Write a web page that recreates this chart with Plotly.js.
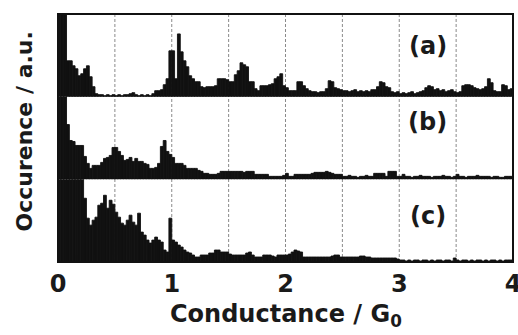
<!DOCTYPE html>
<html>
<head>
<meta charset="utf-8">
<script src="https://cdn.plot.ly/plotly-3.0.1.min.js"></script>
<style>html,body{margin:0;padding:0;background:#fff;}#chart{width:518px;height:335px;}</style>
</head>
<body>
<div id="chart"></div>
<script>
// Histogram bin setup (conductance in G0)
const binStart = 0;
const binWidth = 0.025;
const tickValues = [0, 1, 2, 3, 4];
const tickLabels = ["0", "1", "2", "3", "4"];
const gridValues = [0.5, 1, 1.5, 2, 2.5, 3, 3.5];
const panelLabels = ["(a)", "(b)", "(c)"];

// Occurrence (a.u.) per bin
const seriesA = [
100,100,100,36,36,31,28,21,23,28,
31,20,10,3,2,2,1,2,1,2,
1,2,1,2,2,3,4,2,1,2,
1,2,1,3,6,6,7,12,18,46,
46,18,63,45,36,30,21,18,15,15,
10,9,10,10,10,11,18,18,18,17,
15,15,22,26,34,32,30,15,15,8,
6,11,11,11,12,13,18,20,23,11,
9,6,6,6,15,15,11,8,6,5,
5,4,5,5,8,16,15,9,8,7,
6,6,5,6,7,5,6,5,6,5,
7,7,10,15,14,10,9,5,4,5,
3,4,3,4,5,3,4,5,6,9,
11,10,7,8,6,7,5,6,7,5,
4,5,11,12,12,11,9,8,7,8,
10,18,14,6,5,5,12,11,7,8
];
const seriesB = [
100,100,100,55,39,38,34,34,34,23,
16,11,14,14,14,17,21,22,24,32,
32,28,24,19,20,22,18,21,18,18,
16,15,11,11,12,16,33,39,28,25,
22,16,16,16,14,11,11,11,11,9,
8,6,6,5,5,5,6,8,8,8,
8,8,8,8,8,7,8,8,8,5,
5,5,5,5,3,3,3,3,3,4,
6,3,3,5,5,5,5,5,5,6,
7,7,7,7,8,7,6,5,5,5,
3,3,4,3,3,2,3,3,4,3,
3,6,6,6,6,3,8,8,8,3,
3,5,3,3,2,3,3,4,3,3,
3,2,3,3,3,4,3,3,2,3,
5,3,3,2,3,3,3,4,3,3,
3,3,2,3,3,2,2,3,3,3
];
const seriesC = [
100,100,100,100,100,100,100,100,100,64,
44,37,42,45,57,59,67,54,62,58,
50,45,39,37,42,47,40,37,49,30,
27,22,19,22,25,22,20,12,10,44,
22,20,17,15,12,10,9,7,5,5,
7,7,7,9,9,12,12,10,10,10,
8,7,7,7,7,7,9,10,7,5,
5,5,7,7,7,6,5,7,7,7,
7,8,10,12,11,10,5,5,5,5,
5,5,5,5,5,5,6,7,7,5,
5,5,5,5,5,5,6,6,5,5,
4,4,4,4,4,4,4,4,4,3,
2,2,1,2,1,2,2,1,2,2,
1,2,1,2,2,1,2,2,1,4,
2,1,2,2,1,2,1,2,2,1,
2,1,2,2,1,2,1,2,2,2
];

const FONT = "DejaVu Sans, Arial, sans-serif";
const TXT = "#1a1a1a";
const BAR = "#111111";

function barTrace(vals, yax) {
  return {
    type: "bar", x0: binStart + binWidth / 2, dx: binWidth, y: vals,
    xaxis: "x", yaxis: yax,
    marker: { color: BAR, line: { color: BAR, width: 0.9 } },
    hoverinfo: "skip", showlegend: false
  };
}

const data = [barTrace(seriesA, "y"), barTrace(seriesB, "y2"), barTrace(seriesC, "y3")];

const yBase = { range: [0, 83], showticklabels: false, showgrid: false, zeroline: false, showline: false, ticks: "", fixedrange: true, anchor: "x" };

const shapes = gridValues.map(v => ({
  type: "line", xref: "x", yref: "paper", x0: v, x1: v, y0: 0, y1: 1,
  line: { color: "#8a8a8a", width: 1, dash: "3px,2px" }, layer: "below"
}));
shapes.push({ type: "rect", xref: "paper", yref: "paper", x0: 0, x1: 1, y0: 0, y1: 1,
  line: { color: "#111", width: 2 }, layer: "above" });

const labelY = [0.871, 0.565, 0.185];
const annotations = panelLabels.map((t, i) => ({
  text: t, xref: "x", yref: "paper", x: 3.25, y: labelY[i], showarrow: false,
  xanchor: "center", yanchor: "middle",
  font: { family: FONT, size: 24, color: TXT, weight: "bold" }
}));
annotations.push({
  text: "Occurence / a.u.", xref: "paper", yref: "paper", x: -0.0725, y: 0.526,
  textangle: -90, showarrow: false, xanchor: "center", yanchor: "middle",
  font: { family: FONT, size: 22, color: TXT, weight: "bold" }
});
annotations.push({
  text: "Conductance / G<sub>0</sub>", xref: "paper", yref: "paper", x: 0.5, y: -0.215,
  showarrow: false, xanchor: "center", yanchor: "middle",
  font: { family: FONT, size: 24, color: TXT, weight: "bold" }
});

const layout = {
  width: 518, height: 335,
  margin: { l: 58, r: 5, t: 14, b: 73 },
  paper_bgcolor: "#fff", plot_bgcolor: "#fff",
  bargap: 0, showlegend: false,
  xaxis: { range: [0, 4], tickvals: tickValues, ticktext: tickLabels, showgrid: false, zeroline: false,
    showline: false, ticks: "", anchor: "y3", fixedrange: true, ticklabelstandoff: 5,
    ticklabeloverflow: "allow",
    tickfont: { family: FONT, size: 24, color: TXT, weight: "bold" } },
  yaxis: Object.assign({}, yBase, { domain: [2 / 3, 1] }),
  yaxis2: Object.assign({}, yBase, { domain: [1 / 3, 2 / 3] }),
  yaxis3: Object.assign({}, yBase, { domain: [0, 1 / 3] }),
  shapes: shapes, annotations: annotations
};

Plotly.newPlot("chart", data, layout, { staticPlot: true, displayModeBar: false });
</script>
</body>
</html>
